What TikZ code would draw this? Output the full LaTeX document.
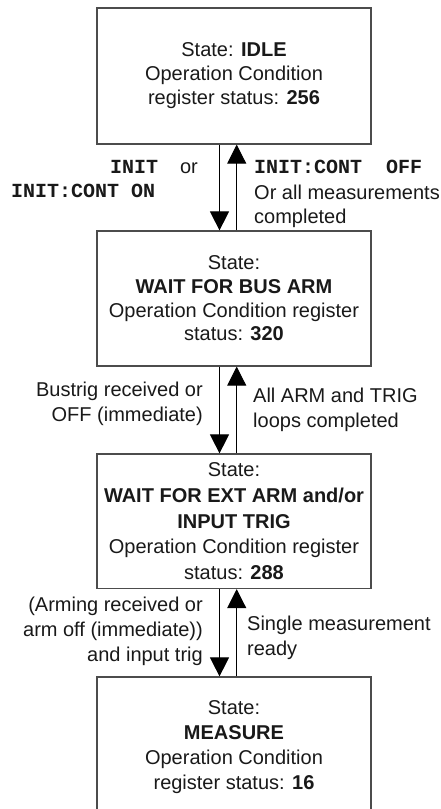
\documentclass[tikz,border=0pt]{standalone}
\usepackage{fontspec}
\setmainfont{Liberation Sans}
\setmonofont{Liberation Mono}
\usetikzlibrary{arrows.meta}
\begin{document}
\begin{tikzpicture}[x=1pt,y=-1pt,
  box/.style={draw=black!70, line width=1.2pt, minimum width=274pt, inner sep=0pt, align=center, text=black!90},
  conn/.style={line width=1pt, draw=black, -{Triangle[length=19pt,width=19pt]}},
  lbl/.style={inner sep=0pt, text=black!90, font=\fontsize{20}{24}\selectfont},
  mono/.style={lbl, font=\fontsize{20}{24}\selectfont\ttfamily\bfseries}]
\useasboundingbox (0,0) rectangle (440,809);
% state boxes
\node[box, minimum height=136pt, font=\fontsize{20}{24}\selectfont] (b1) at (234,76)
  {State: \textbf{IDLE}\\Operation Condition\\register status: \textbf{256}};
\node[box, minimum height=135pt, font=\fontsize{20}{23.6}\selectfont] (b2) at (234,298.5)
  {State:\\\textbf{WAIT FOR BUS ARM}\\Operation Condition register\\status: \textbf{320}};
\node[box, minimum height=134.5pt, font=\fontsize{20}{25.7}\selectfont] (b3) at (234,521.25)
  {State:\\\textbf{WAIT FOR EXT ARM and/or}\\\textbf{INPUT TRIG}\\Operation Condition register\\status: \textbf{288}};
\node[box, minimum height=140pt, font=\fontsize{20}{24.8}\selectfont] (b4) at (234,747)
  {State:\\\textbf{MEASURE}\\Operation Condition\\register status: \textbf{16}};
% connectors
\draw[conn] ([xshift=-14.5pt]b1.south) -- ([xshift=-14.5pt]b2.north);
\draw[conn] ([xshift=2.7pt]b2.north) -- ([xshift=2.7pt]b1.south);
\draw[conn] ([xshift=-14.5pt]b2.south) -- ([xshift=-14.5pt]b3.north);
\draw[conn] ([xshift=2.7pt]b3.north) -- ([xshift=2.7pt]b2.south);
\draw[conn] ([xshift=-14.5pt]b3.south) -- ([xshift=-14.5pt]b4.north);
\draw[conn] ([xshift=2.7pt]b4.north) -- ([xshift=2.7pt]b3.south);
% labels b1 <-> b2
\node[lbl, anchor=base east] (l1a) at (198,173) {{\ttfamily\bfseries INIT}\hspace{22pt}or};
\node[mono, anchor=base west] (l1b) at (11,197) {INIT:CONT ON};
\node[mono, anchor=base west] (r1a) at (254,173) {INIT:CONT\ \ OFF};
\node[lbl, anchor=base west] (r1b) at (254,199) {Or all measurements};
\node[lbl, anchor=base west] (r1c) at (254,223) {completed};
% labels b2 <-> b3
\node[lbl, anchor=base east] (l2a) at (203,396) {Bustrig received or};
\node[lbl, anchor=base east] (l2b) at (203,421) {OFF (immediate)};
\node[lbl, anchor=base west] (r2a) at (253,402) {All ARM and TRIG};
\node[lbl, anchor=base west] (r2b) at (253,427) {loops completed};
% labels b3 <-> b4
\node[lbl, anchor=base east] (l3a) at (203,611.7) {(Arming received or};
\node[lbl, anchor=base east] (l3b) at (203,636.7) {arm off (immediate))};
\node[lbl, anchor=base east] (l3c) at (203,661.7) {and input trig};
\node[lbl, anchor=base west] (r3a) at (247,630) {Single measurement};
\node[lbl, anchor=base west] (r3b) at (247,655) {ready};
\end{tikzpicture}
\end{document}
